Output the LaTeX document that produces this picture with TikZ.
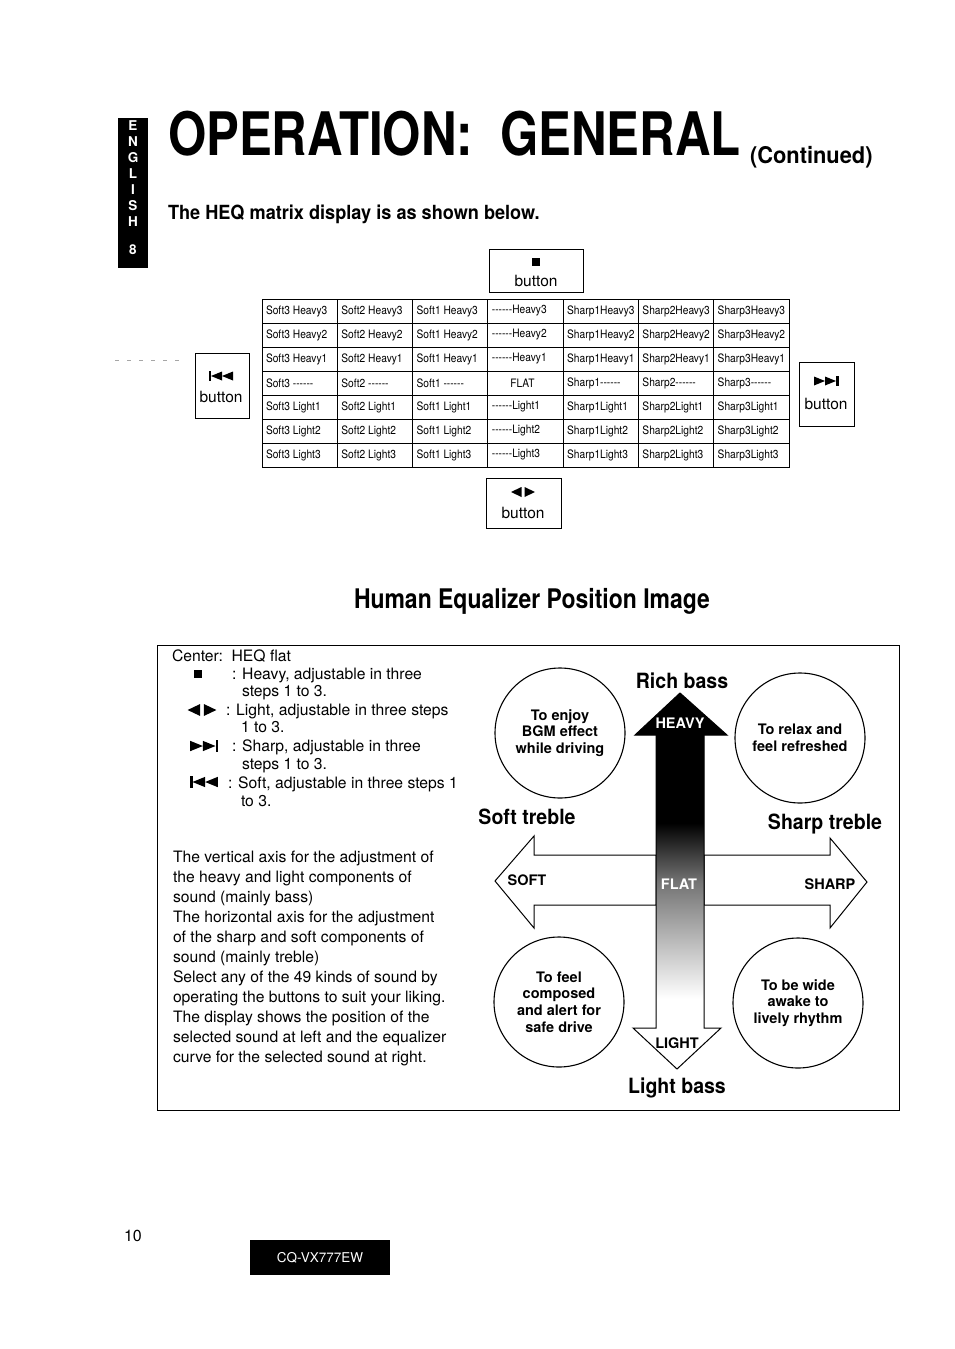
\documentclass[tikz,border=0pt]{standalone}
\usepackage{fontspec}
\setmainfont{TeX Gyre Heros}
\usepackage{graphicx}
\usetikzlibrary{positioning,calc}

\newcommand{\narrow}[2]{\scalebox{#1}[1]{#2}}
\newcommand{\dashrun}{\mbox{-}\mbox{-}\mbox{-}\mbox{-}\mbox{-}\mbox{-}}
\pgfdeclareverticalshading{bassfade}{100bp}{color(0bp)=(white); color(30bp)=(white); color(50bp)=(black!55); color(60bp)=(black); color(100bp)=(black)}

\tikzset{
  pics/stopsym/.style={code={\fill (-4,-4) rectangle (4,4);}},
  pics/lrsym/.style={code={\fill (-1.5,-5) -- (-12,0) -- (-1.5,5) -- cycle; \fill (1.5,-5) -- (12,0) -- (1.5,5) -- cycle;}},
  pics/fwdsym/.style={code={\fill (-12,-4.5) -- (-1,0) -- (-12,4.5) -- cycle; \fill (-1,-4.5) -- (10,0) -- (-1,4.5) -- cycle; \fill (10,-5) rectangle (12.5,5);}},
  pics/revsym/.style={code={\fill (12,-4.5) -- (1,0) -- (12,4.5) -- cycle; \fill (1,-4.5) -- (-10,0) -- (1,4.5) -- cycle; \fill (-10,-5) rectangle (-12.5,5);}},
}

\begin{document}
\begin{tikzpicture}[
  x=1pt, y=-1pt,
  every node/.style={inner sep=0pt, outer sep=0pt},
  tabline/.style={draw=black, line width=0.9pt},
  btnbox/.style={draw=black, line width=0.9pt},
  btntext/.style={font=\fontsize{15.5}{18}\selectfont},
  cell/.style={anchor=west, font=\fontsize{11.6}{13}\selectfont},
  bodytext/.style={anchor=north west, align=left, font=\fontsize{15.7}{20}\selectfont},
  legtext/.style={anchor=north west, align=left, font=\fontsize{15.7}{17.5}\selectfont},
  mood/.style={circle, draw=black, line width=1.1pt, minimum size=130pt, align=center, font=\bfseries\fontsize{14.5}{16.8}\selectfont},
  axislabel/.style={anchor=base, font=\bfseries\fontsize{21}{24}\selectfont},
  dirlabel/.style={font=\bfseries\fontsize{14.5}{16}\selectfont},
  sidetext/.style={text=white, font=\bfseries\fontsize{13.5}{13.5}\selectfont},
  outline/.style={draw=black, line width=1pt}
]
  \useasboundingbox (0,0) rectangle (954,1349);
  \fill[white] (0,0) rectangle (954,1349);

  \node[fill=black, minimum width=30, minimum height=150] (tab) at (133,193) {};
  \foreach \ch [count=\i] in {E,N,G,L,I,S,H}
    \node[sidetext] (tab\i) at (133,110+16*\i) {\ch};
  \node[sidetext] (tabnum) at (133,250) {8};

  \node[anchor=base west, font=\bfseries\fontsize{60}{60}\selectfont] (title) at (168,155) {\narrow{0.82}{OPERATION:~~GENERAL}};
  \node[anchor=base west, font=\bfseries\fontsize{23}{23}\selectfont] (cont) at (750,163) {\narrow{0.95}{(Continued)}};
  \node[anchor=base west, font=\bfseries\fontsize{19.5}{20}\selectfont] (intro) at (168,219) {\narrow{0.93}{The HEQ matrix display is as shown below.}};

  \draw[tabline] (262,299) rectangle (789,467);
  \foreach \k in {1,...,6} {
    \draw[tabline] (262,299+24*\k) -- (789,299+24*\k);
    \draw[tabline] (262+75.29*\k,299) -- (262+75.29*\k,467);
  }
  \foreach \row [count=\r] in {
    {Soft3 Heavy3,Soft2 Heavy3,Soft1 Heavy3,\dashrun Heavy3,Sharp1Heavy3,Sharp2Heavy3,Sharp3Heavy3},
    {Soft3 Heavy2,Soft2 Heavy2,Soft1 Heavy2,\dashrun Heavy2,Sharp1Heavy2,Sharp2Heavy2,Sharp3Heavy2},
    {Soft3 Heavy1,Soft2 Heavy1,Soft1 Heavy1,\dashrun Heavy1,Sharp1Heavy1,Sharp2Heavy1,Sharp3Heavy1},
    {Soft3 \dashrun,Soft2 \dashrun,Soft1 \dashrun,\hspace*{21pt}FLAT,Sharp1\dashrun,Sharp2\dashrun,Sharp3\dashrun},
    {Soft3 Light1,Soft2 Light1,Soft1 Light1,\dashrun Light1,Sharp1Light1,Sharp2Light1,Sharp3Light1},
    {Soft3 Light2,Soft2 Light2,Soft1 Light2,\dashrun Light2,Sharp1Light2,Sharp2Light2,Sharp3Light2},
    {Soft3 Light3,Soft2 Light3,Soft1 Light3,\dashrun Light3,Sharp1Light3,Sharp2Light3,Sharp3Light3}}
    \foreach \txt [count=\c] in \row
      \node[cell] (m\r\c) at (190.71+75.29*\c,287+24*\r) {\narrow{0.88}{\txt}};

  \node[btnbox, minimum width=94, minimum height=43] (btnHeavy) at (536,270.5) {};
  \pic at (536,262) {stopsym};
  \node[btntext] (btnHeavyT) at (536,281) {button};

  \draw[black!35, line width=0.8pt, dash pattern=on 4pt off 8pt] (115,360) -- (182,360);
  \node[btnbox, minimum width=54, minimum height=65] (btnSoft) at (222,385.5) {};
  \pic at (221,376) {revsym};
  \node[btntext] (btnSoftT) at (221,397) {button};

  \node[btnbox, minimum width=55, minimum height=64] (btnSharp) at (826.5,394) {};
  \pic at (826,381) {fwdsym};
  \node[btntext] (btnSharpT) at (826,404) {button};

  \node[btnbox, minimum width=75, minimum height=50] (btnLight) at (523.5,503) {};
  \pic at (523,492) {lrsym};
  \node[btntext] (btnLightT) at (523,513) {button};

  \node[anchor=base west, font=\bfseries\fontsize{27}{28}\selectfont] (heqtitle) at (354,608) {\narrow{0.85}{Human Equalizer Position Image}};

  \draw[outline] (157,645) rectangle (899,1110);

  \node[legtext] (center) at (172,650) {Center:~~HEQ flat};
  \pic at (198,674) {stopsym};
  \node[legtext] (lgHeavy) at (232,668) {: Heavy, adjustable in three\\\hspace*{10pt}steps 1 to 3.};
  \pic[scale=1.2] at (202,710) {lrsym};
  \node[legtext] (lgLight) at (226,704) {: Light, adjustable in three steps\\\hspace*{15pt}1 to 3.};
  \pic[scale=1.15] at (204,746) {fwdsym};
  \node[legtext] (lgSharp) at (232,740) {: Sharp, adjustable in three\\\hspace*{10pt}steps 1 to 3.};
  \pic[scale=1.15] at (204,782) {revsym};
  \node[legtext] (lgSoft) at (228,777) {: Soft, adjustable in three steps 1\\\hspace*{13pt}to 3.};

  \node[bodytext] (axes) at (173,851) {The vertical axis for the adjustment of\\the heavy and light components of\\sound (mainly bass)\\The horizontal axis for the adjustment\\of the sharp and soft components of\\sound (mainly treble)\\Select any of the 49 kinds of sound by\\operating the buttons to suit your liking.\\The display shows the position of the\\selected sound at left and the equalizer\\curve for the selected sound at right.};

  \filldraw[outline, fill=white] (656,855) -- (534,855) -- (534,836) -- (495,881) -- (534,928) -- (534,905) -- (656,905) -- cycle;
  \filldraw[outline, fill=white] (704,855) -- (830,855) -- (830,838) -- (867,882) -- (830,928) -- (830,905) -- (704,905) -- cycle;
  \shade[shading=bassfade] (656,735) rectangle (704,1028);
  \fill[white] (633,1028) -- (677,1069) -- (721,1028) -- cycle;
  \draw[outline] (656,735) -- (656,1028) -- (633,1028) -- (677,1069) -- (721,1028) -- (704,1028) -- (704,735);
  \filldraw[outline, fill=black] (635,735) -- (680,693) -- (727,735) -- cycle;

  \node[dirlabel, text=white] (heavy) at (680,723) {HEAVY};
  \node[dirlabel, text=white] (flat) at (679,884) {FLAT};
  \node[dirlabel] (light) at (677,1043) {LIGHT};
  \node[dirlabel] (soft) at (527,880) {SOFT};
  \node[dirlabel] (sharp) at (830,884) {SHARP};

  \node[axislabel] (richbass) at (682,688) {\narrow{0.93}{Rich bass}};
  \node[axislabel] (softtreble) at (527,824) {\narrow{0.93}{Soft treble}};
  \node[axislabel] (sharptreble) at (825,829) {\narrow{0.93}{Sharp treble}};
  \node[axislabel] (lightbass) at (677,1093) {\narrow{0.93}{Light bass}};

  \node[mood] (enjoy) at (560,733) {To enjoy\\BGM effect\\while driving};
  \node[mood] (relax) at (800,738) {To relax and\\feel refreshed};
  \node[mood] (calm) at (559,1002) {To feel\\composed\\and alert for\\safe drive};
  \node[mood] (awake) at (798,1003) {To be wide\\awake to\\lively rhythm};

  \node[anchor=base west, font=\fontsize{16}{16}\selectfont] (page) at (124,1241) {10};
  \node[fill=black, minimum width=140, minimum height=35, text=white, font=\fontsize{13.5}{14}\selectfont] (model) at (320,1257.5) {CQ-VX777EW};
\end{tikzpicture}
\end{document}
